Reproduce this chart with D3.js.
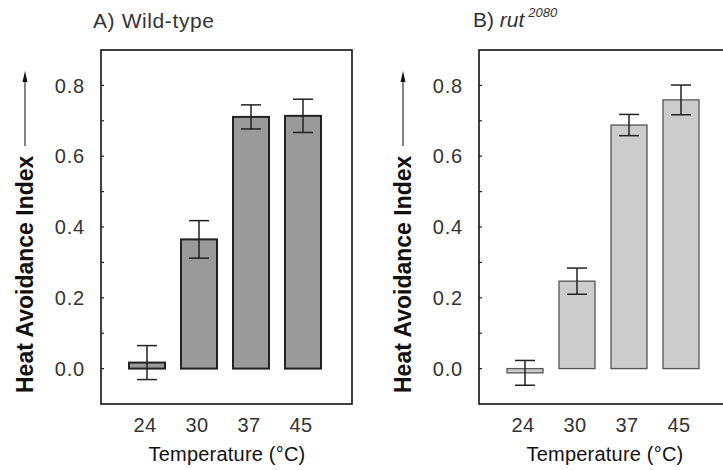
<!DOCTYPE html>
<html>
<head>
<meta charset="utf-8">
<script src="https://cdn.jsdelivr.net/npm/d3@7"></script>
<style>
  body { margin: 0; background: #fff; }
  text { font-family: 'Liberation Sans', Arial, sans-serif; }
</style>
</head>
<body>
<svg id="chart" width="723" height="470"></svg>
<script>
// data
const temps = ['24', '30', '37', '45'];
const wildMean = [0.017, 0.365, 0.711, 0.714];
const wildErr = [0.048, 0.053, 0.034, 0.047];
const rutMean = [-0.012, 0.247, 0.688, 0.759];
const rutErr = [0.035, 0.037, 0.030, 0.042];
const yTicks = [0.0, 0.2, 0.4, 0.6, 0.8];
const yMinor = [0.1, 0.3, 0.5, 0.7];

const svg = d3.select('#chart');
const boxW = 251;
const boxTop = 50;
const boxBottom = 404;
const barW = 36;

const yScale = d3.scaleLinear()
  .domain([-0.1, 0.9])
  .range([boxBottom, boxTop]);

function drawPanel(x0, means, errs, fill, barStroke, barStrokeW) {
  const g = svg.append('g');

  const xScale = d3.scalePoint()
    .domain(temps)
    .range([x0 + 46, x0 + 202]);

  // bars
  g.selectAll('rect.bar')
    .data(temps)
    .enter()
    .append('rect')
    .attr('class', 'bar')
    .attr('x', (d) => xScale(d) - barW / 2)
    .attr('y', (d, i) => Math.min(yScale(means[i]), yScale(0)))
    .attr('width', barW)
    .attr('height', (d, i) => Math.abs(yScale(means[i]) - yScale(0)))
    .attr('fill', fill)
    .attr('stroke', barStroke)
    .attr('stroke-width', barStrokeW);

  // error bars
  const err = g.selectAll('g.err')
    .data(temps)
    .enter()
    .append('g')
    .attr('stroke', '#222')
    .attr('stroke-width', 1.5);
  err.append('line')
    .attr('x1', (d) => xScale(d))
    .attr('x2', (d) => xScale(d))
    .attr('y1', (d, i) => yScale(means[i] + errs[i]))
    .attr('y2', (d, i) => yScale(means[i] - errs[i]));
  err.append('line')
    .attr('x1', (d) => xScale(d) - 10)
    .attr('x2', (d) => xScale(d) + 10)
    .attr('y1', (d, i) => yScale(means[i] + errs[i]))
    .attr('y2', (d, i) => yScale(means[i] + errs[i]));
  err.append('line')
    .attr('x1', (d) => xScale(d) - 10)
    .attr('x2', (d) => xScale(d) + 10)
    .attr('y1', (d, i) => yScale(means[i] - errs[i]))
    .attr('y2', (d, i) => yScale(means[i] - errs[i]));

  // frame
  g.append('rect')
    .attr('x', x0)
    .attr('y', boxTop)
    .attr('width', boxW)
    .attr('height', boxBottom - boxTop)
    .attr('fill', 'none')
    .attr('stroke', '#111')
    .attr('stroke-width', 1.6);

  // y ticks, inside the frame
  g.selectAll('line.ytick')
    .data(yTicks.concat(yMinor))
    .enter()
    .append('line')
    .attr('x1', x0)
    .attr('x2', x0 + 3)
    .attr('y1', (d) => yScale(d))
    .attr('y2', (d) => yScale(d))
    .attr('stroke', '#222')
    .attr('stroke-width', 1.2);

  g.selectAll('text.ylab')
    .data(yTicks)
    .enter()
    .append('text')
    .attr('x', x0 - 16)
    .attr('y', (d) => yScale(d))
    .attr('dy', '0.36em')
    .attr('text-anchor', 'end')
    .attr('font-size', '20px')
    .attr('letter-spacing', '0.8px')
    .attr('fill', '#333')
    .text((d) => d3.format('.1f')(d));

  // x tick labels
  g.selectAll('text.xlab')
    .data(temps)
    .enter()
    .append('text')
    .attr('x', (d) => xScale(d) - 2)
    .attr('y', 432)
    .attr('text-anchor', 'middle')
    .attr('font-size', '20px')
    .attr('letter-spacing', '0.5px')
    .attr('fill', '#333')
    .text((d) => d);

  g.append('text')
    .attr('x', x0 + 126)
    .attr('y', 461)
    .attr('text-anchor', 'middle')
    .attr('font-size', '20px')
    .attr('letter-spacing', '0.2px')
    .attr('fill', '#111')
    .text('Temperature (°C)');

  // y axis title with arrow
  const lx = x0 - 68;
  g.append('text')
    .attr('transform', `translate(${lx},393) rotate(-90)`)
    .attr('font-size', '23px')
    .attr('font-weight', 'bold')
    .attr('fill', '#111')
    .text('Heat Avoidance Index');
  g.append('line')
    .attr('x1', lx - 8)
    .attr('x2', lx - 8)
    .attr('y1', 146)
    .attr('y2', 80)
    .attr('stroke', '#333')
    .attr('stroke-width', 1.2);
  g.append('path')
    .attr('d', `M${lx - 8},${71}L${lx - 10.5},${82}L${lx - 5.5},${82}Z`)
    .attr('fill', '#111');

  return g;
}

drawPanel(101, wildMean, wildErr, '#9a9a9a', '#222', 2);
drawPanel(479, rutMean, rutErr, '#cccccc', '#555', 1.3);

// panel titles
svg.append('text')
  .attr('x', 93)
  .attr('y', 28)
  .attr('font-size', '21px')
  .attr('letter-spacing', '0.6px')
  .attr('fill', '#333')
  .text('A) Wild-type');

const tB = svg.append('text')
  .attr('x', 473)
  .attr('y', 27)
  .attr('font-size', '21px')
  .attr('fill', '#333');
tB.append('tspan').text('B) ');
tB.append('tspan').attr('font-style', 'italic').text('rut');
tB.append('tspan')
  .attr('font-style', 'italic')
  .attr('font-size', '13px')
  .attr('dx', 4)
  .attr('dy', -10)
  .text('2080');
</script>
</body>
</html>
